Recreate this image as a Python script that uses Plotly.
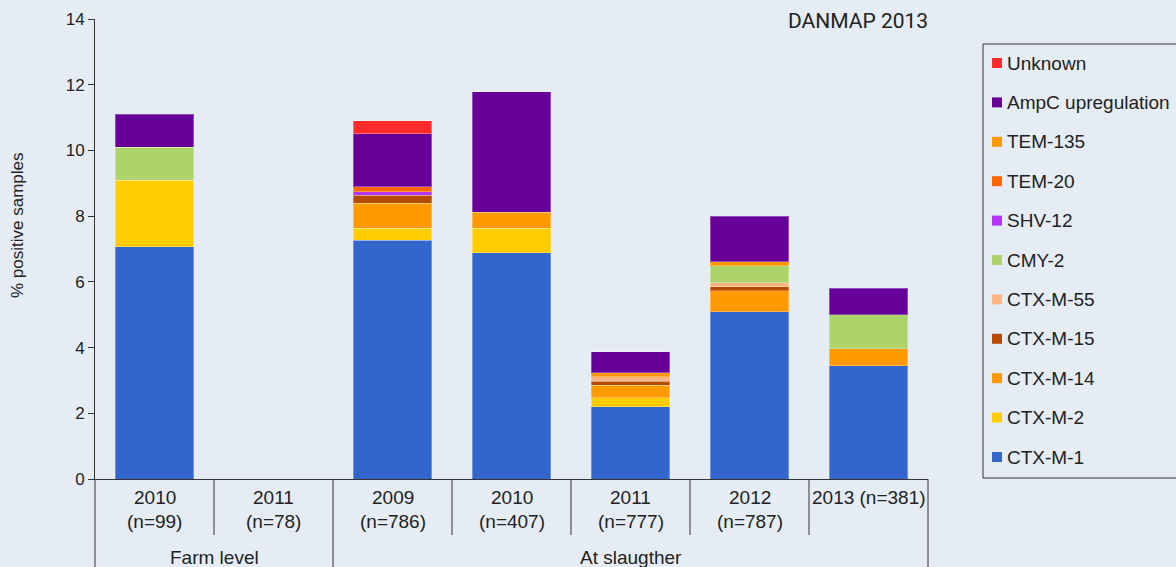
import plotly.graph_objects as go

# Categories: farm-level and slaughter-house sampling years
years = ["2010", "2011", "2009", "2010", "2011", "2012", "2013 (n=381)"]
sample_sizes = ["(n=99)", "(n=78)", "(n=786)", "(n=407)", "(n=777)", "(n=787)", ""]
groups = ["Farm level", "At slaugther"]
group_sizes = [2, 5]

# % positive samples per resistance gene (None = not found)
ctx_m_1 = [7.07, None, 7.26, 6.88, 2.20, 5.09, 3.44]
ctx_m_2 = [2.03, None, 0.37, 0.75, 0.27, None, None]
ctx_m_14 = [None, None, 0.76, 0.49, 0.39, 0.64, 0.52]
ctx_m_15 = [None, None, 0.24, None, 0.12, 0.12, None]
ctx_m_55 = [None, None, None, None, 0.13, 0.13, None]
cmy_2 = [0.99, None, None, None, None, 0.51, 1.04]
shv_12 = [None, None, 0.12, None, None, None, None]
tem_20 = [None, None, 0.15, None, None, None, None]
tem_135 = [None, None, None, None, 0.12, 0.12, None]
ampc = [1.01, None, 1.61, 3.66, 0.65, 1.39, 0.80]
unknown = [None, None, 0.40, None, None, None, None]

series = [
    ("CTX-M-1", ctx_m_1, "#3366CC"),
    ("CTX-M-2", ctx_m_2, "#FFCC00"),
    ("CTX-M-14", ctx_m_14, "#FF9900"),
    ("CTX-M-15", ctx_m_15, "#B84A00"),
    ("CTX-M-55", ctx_m_55, "#FFB482"),
    ("CMY-2", cmy_2, "#ACD468"),
    ("SHV-12", shv_12, "#B634F7"),
    ("TEM-20", tem_20, "#FF6600"),
    ("TEM-135", tem_135, "#FF9900"),
    ("AmpC upregulation", ampc, "#660099"),
    ("Unknown", unknown, "#FF2A2A"),
]

W, H = 1176, 567
L, R, T, B = 95, 928, 19, 479
BG = "#E5ECF4"
INK = "#222222"
LINE = "#333333"
FONT = "Liberation Sans, Arial, sans-serif"
LABEL_SIZE = 19


def px_x(p):
    return (p - L) / (R - L)


def px_y(p):
    return (B - p) / (B - T)


def label(x, y, text, size=LABEL_SIZE, xanchor="center", family=FONT, angle=0):
    return dict(x=x, y=y, xref="paper", yref="paper", text=text, showarrow=False,
                xanchor=xanchor, yanchor="middle", textangle=angle,
                font=dict(size=size, color=INK, family=family))


n = len(years)
xs = list(range(n))

fig = go.Figure()
for name, vals, color in series:
    fig.add_trace(go.Bar(
        x=xs, y=vals, name=name, width=0.66,
        marker=dict(color=color, line=dict(color="rgba(255,255,255,0.3)", width=1)),
        showlegend=False,
    ))

shapes = []
annotations = []

# y axis continues down through the category label rows
shapes.append(dict(type="line", xref="paper", yref="paper", x0=0, x1=0,
                   y0=0, y1=px_y(H), line=dict(color=LINE, width=1)))

# category separators: long ones close a group, short ones split years
group_ends = set()
acc = 0
for g in group_sizes:
    acc += g
    group_ends.add(acc)
for k in range(1, n + 1):
    bottom = px_y(H) if k in group_ends else px_y(535)
    shapes.append(dict(type="line", xref="paper", yref="paper", x0=k / n, x1=k / n,
                       y0=0, y1=bottom, line=dict(color=LINE, width=1)))

# category labels
for i in range(n):
    xc = (i + 0.5) / n
    annotations.append(label(xc, px_y(497), years[i]))
    if sample_sizes[i]:
        annotations.append(label(xc, px_y(521), sample_sizes[i]))

# group labels
start = 0
for g, size in zip(groups, group_sizes):
    annotations.append(label((start + size / 2) / n, px_y(557), g))
    start += size

# y axis title
annotations.append(label(px_x(18), px_y(225), "% positive samples", size=17, angle=-90))

# report tag
annotations.append(label(px_x(930), px_y(21), "DANMAP 2013", size=21, xanchor="right",
                         family="Roboto, sans-serif"))

# legend box, top entry first
shapes.append(dict(type="rect", xref="paper", yref="paper", x0=px_x(983), x1=px_x(1185),
                   y0=px_y(478), y1=px_y(44), line=dict(color=LINE, width=1)))
for j, (name, vals, color) in enumerate(reversed(series)):
    yc = 63 + j * 39.4
    shapes.append(dict(type="rect", xref="paper", yref="paper",
                       x0=px_x(992), x1=px_x(1002), y0=px_y(yc + 5), y1=px_y(yc - 5),
                       fillcolor=color, line=dict(width=0)))
    annotations.append(label(px_x(1005), px_y(yc), name, xanchor="left"))

fig.update_layout(
    width=W, height=H,
    margin=dict(l=L, r=W - R, t=T, b=H - B, autoexpand=False),
    paper_bgcolor=BG, plot_bgcolor=BG,
    barmode="stack", bargap=0.34,
    showlegend=False,
    shapes=shapes, annotations=annotations,
    font=dict(family=FONT, color=INK, size=17),
)
fig.update_xaxes(range=[-0.5, n - 0.5], showticklabels=False, showgrid=False,
                 zeroline=False, showline=True, linecolor=LINE, linewidth=1, ticks="")
fig.update_yaxes(range=[0, 14], dtick=2, showgrid=False, zeroline=False, showline=True,
                 linecolor=LINE, linewidth=1, ticks="outside", ticklen=6, tickcolor=LINE,
                 tickfont=dict(size=17, color=INK, family=FONT))

fig.write_html("out.html")
